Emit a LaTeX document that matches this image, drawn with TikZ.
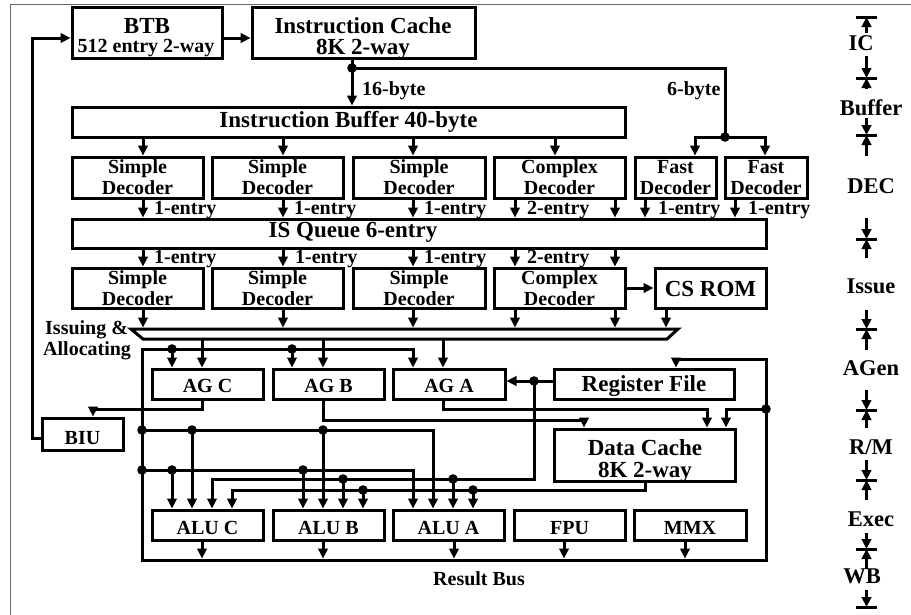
\documentclass[tikz,border=0pt]{standalone}
\usepackage{fontspec}
\setmainfont{Liberation Serif}
\usetikzlibrary{arrows.meta}
\newcommand\fntL{\fontsize{23}{23}\selectfont\bfseries}
\newcommand\fntS{\fontsize{20}{21}\selectfont\bfseries}
\newcommand\fntM{\fontsize{22.5}{23}\selectfont\bfseries}
\begin{document}
\begin{tikzpicture}[x=1pt,y=-1pt,
  wire/.style={line width=3pt},
  arr/.style={line width=3pt,-{Triangle[length=10pt,width=9.5pt]}},
  arrb/.style={line width=3pt,{Triangle[length=10pt,width=9.5pt]}-{Triangle[length=10pt,width=9.5pt]}},
  box/.style={draw,line width=3pt,inner sep=0pt},
  dec/.style={box,align=center,font=\fntS,minimum height=41pt},
  bxL/.style={box,font=\fntL,text depth=0pt,text height=#1},
  bxS/.style={box,font=\fntS,text depth=0pt,text height=#1},
  txL/.style={inner sep=0pt,anchor=base,font=\fntL},
  txS/.style={inner sep=0pt,anchor=base,font=\fntS},
  lab/.style={inner sep=0pt,anchor=base west,font=\fntS},
  stg/.style={inner sep=0pt,anchor=base,font=\fntM},
]
\useasboundingbox (0,0) rectangle (911,614);
\fill[white] (0,0) rectangle (911,614);
% outer frame
\draw[black!60,line width=0.8pt,double=white,double distance=1pt] (11,620) -- (11,5) -- (920,5);

% ---- top boxes
\node[box,minimum width=150pt,minimum height=51pt] (btb) at (147,32.5) {};
\node[txL] (btbA) at (147,33.4) {BTB};
\node[txS] (btbB) at (146,52.6) {512 entry 2-way};
\node[box,minimum width=223pt,minimum height=51pt] (ic) at (363.5,32.5) {};
\node[txL] (icA) at (363,33.4) {Instruction Cache};
\node[txL] (icB) at (363,54.3) {8K 2-way};
\node[bxL=11.2pt,minimum width=553pt,minimum height=30pt] (ib) at (348.5,122) {Instruction Buffer 40-byte};

% ---- decoders row 1
\node[dec,minimum width=131pt] (sd1) at (137.5,177.5) {Simple\\Decoder};
\node[dec,minimum width=131pt] (sd2) at (277.5,177.5) {Simple\\Decoder};
\node[dec,minimum width=132pt] (sd3) at (419,177.5) {Simple\\Decoder};
\node[dec,minimum width=131pt] (cd1) at (559.5,177.5) {Complex\\Decoder};
\node[dec,minimum width=81pt] (fd1) at (675.5,177.5) {Fast\\Decoder};
\node[dec,minimum width=82pt] (fd2) at (766,177.5) {Fast\\Decoder};

% ---- IS queue
\node[box,minimum width=694pt,minimum height=29pt] (isq) at (419,233.5) {};
\node[txL] (isqt) at (353,237.6) {IS Queue 6-entry};

% ---- decoders row 2
\node[dec,minimum width=131pt,minimum height=40pt] (sd4) at (137.5,288) {Simple\\Decoder};
\node[dec,minimum width=131pt,minimum height=40pt] (sd5) at (277.5,288) {Simple\\Decoder};
\node[dec,minimum width=132pt,minimum height=40pt] (sd6) at (419,288) {Simple\\Decoder};
\node[dec,minimum width=131pt,minimum height=40pt] (cd2) at (559.5,288) {Complex\\Decoder};
\node[bxL=17.2pt,minimum width=111pt,minimum height=40pt] (csr) at (710.5,288) {CS ROM};

% ---- AG row
\node[bxS=17pt,minimum width=111pt,minimum height=30pt] (agc) at (207.5,384) {AG C};
\node[bxS=17pt,minimum width=111pt,minimum height=30pt] (agb) at (328.5,384) {AG B};
\node[bxS=17pt,minimum width=112pt,minimum height=30pt] (aga) at (449,384) {AG A};
\node[bxL=15.2pt,minimum width=180pt,minimum height=30pt] (rf) at (644,384) {Register File};
\node[bxS=21pt,minimum width=81pt,minimum height=32pt] (biu) at (82.5,434) {BIU};
\node[box,minimum width=181pt,minimum height=52pt] (dc) at (644.5,455) {};
\node[txL] (dcA) at (645,455.1) {Data Cache};
\node[txL] (dcB) at (645,477.6) {8K 2-way};

% ---- execution units
\node[bxS=19.2pt,minimum width=111pt,minimum height=30pt] (aluc) at (207.5,525) {ALU C};
\node[bxS=19.2pt,minimum width=111pt,minimum height=30pt] (alub) at (328.5,525) {ALU B};
\node[bxS=19.2pt,minimum width=111pt,minimum height=30pt] (alua) at (448.5,525) {ALU A};
\node[bxS=19.2pt,minimum width=111pt,minimum height=30pt] (fpu) at (569.5,525) {FPU};
\node[bxS=19.2pt,minimum width=112pt,minimum height=30pt] (mmx) at (690,525) {MMX};

% ---- fetch wiring
\draw[arr] (btb.east |- 0,38) -- (ic.west |- 0,38);
\draw[arr] (biu.west |- 0,438) -- (32,438) |- (btb.west |- 0,38);
\coordinate (sp1) at (352,68);
\coordinate (sp2) at (725,137);
\draw[arr] (ic.south -| sp1) -- (ib.north -| sp1);
\draw[wire] (sp1) -| (sp2);
\draw[arr] (sp2) -| (fd1.north -| 695,0);
\draw[arr] (sp2) -| (fd2.north -| 765,0);
\node[lab] (l16) at (362,95) {16-byte};
\node[lab] (l6) at (667,95) {6-byte};

\foreach \x/\nd in {143/sd1,283/sd2,413/sd3,555/cd1}
  \draw[arr] (ib.south -| \x,0) -- (\nd.north -| \x,0);
\foreach \x/\nd in {143/sd1,283/sd2,413/sd3,515/cd1,615/cd1,645/fd1,735/fd2}
  \draw[arr] (\nd.south -| \x,0) -- (isq.north -| \x,0);
\foreach \x/\t [count=\i] in {154/1-entry,294/1-entry,424/1-entry,527/2-entry,658/1-entry,748/1-entry}
  \node[lab] (ea\i) at (\x,214) {\t};
\foreach \x/\nd in {143/sd4,283/sd5,413/sd6,515/cd2,615/cd2}
  \draw[arr] (isq.south -| \x,0) -- (\nd.north -| \x,0);
\foreach \x/\t [count=\i] in {154/1-entry,295/1-entry,424/1-entry,527/2-entry}
  \node[lab] (eb\i) at (\x,263) {\t};
\draw[arr] (cd2.east) -- (csr.west);

% ---- issue bus
\coordinate (busTL) at (131,329);
\coordinate (busTR) at (678,329);
\coordinate (busBR) at (667,339);
\coordinate (busBL) at (143,339);
\draw[wire] (busTL) -- (busTR) -- (busBR) -- (busBL) -- cycle;
\foreach \x/\nd in {143/sd4,283/sd5,413/sd6,515/cd2,615/cd2,666/csr}
  \draw[arr,shorten >=1.5pt] (\nd.south -| \x,0) -- (busTL -| \x,0);
\foreach \x/\nd in {202/agc,323/agb,443/aga}
  \draw[arr] (busBL -| \x,0) -- (\nd.north -| \x,0);
\node[lab] (iss1) at (45,334) {Issuing \&};
\node[lab] (iss2) at (43,355) {Allocating};

% ---- result bus and feedback
\coordinate (rbL) at (142,560);
\coordinate (rbR) at (766,560);
\coordinate (fdL) at (142,349);
\draw[arrb] (aga.north -| 413,0) -- (413,349) -- (fdL) -- (rbL) -- (rbR) -- (766,359) -- (676,359) -- (rf.north -| 676,0);
\draw[arr] (172,349) -- (agc.north -| 172,0);
\draw[arr] (292,349) -- (agb.north -| 292,0);

\coordinate (f1) at (142,430);
\coordinate (f2) at (142,470);
\draw[arr] (f1) -- (433,430) -- (alua.north -| 433,0);
\draw[arr] (192,430) -- (aluc.north -| 192,0);
\draw[arr] (323,430) -- (alub.north -| 323,0);
\draw[arr] (f2) -- (413,470) -- (alua.north -| 413,0);
\draw[arr] (172,470) -- (aluc.north -| 172,0);
\draw[arr] (303,470) -- (alub.north -| 303,0);

\draw[arr] (rf.west |- 0,381) -- (aga.east |- 0,381);
\coordinate (rfd) at (534,381);
\draw[arr] (rfd) -- (534,479) -- (212,479) -- (aluc.north -| 212,0);
\draw[arr] (343,479) -- (alub.north -| 343,0);
\draw[arr] (453,479) -- (alua.north -| 453,0);

\draw[arr] (dc.south -| 645,0) -- (645,490) -- (232,490) -- (aluc.north -| 232,0);
\draw[arr] (363,490) -- (alub.north -| 363,0);
\draw[arr] (473,490) -- (alua.north -| 473,0);

\draw[arr] (agc.south -| 202,0) -- (202,409) -- (93,409) -- (biu.north -| 93,0);
\draw[arr] (agb.south -| 323,0) -- (323,420) -- (584,420) -- (dc.north -| 584,0);
\draw[arr] (aga.south -| 443,0) -- (443,409) -- (707,409) -- (dc.north -| 707,0);
\coordinate (rd) at (766,409);
\draw[arr] (rd) -- (726,409) -- (dc.north -| 726,0);

\foreach \x/\nd in {202/aluc,323/alub,454/alua,564/fpu,685/mmx}
  \draw[arr,shorten >=1.5pt] (\nd.south -| \x,0) -- (rbL -| \x,0);
\node[lab] (rbus) at (433,585) {Result Bus};

% ---- junction dots
\foreach \p in {(352,68),(725,137),(172,349),(292,349),(142,430),(192,430),(323,430),(142,470),(172,470),(303,470),(534,381),(343,479),(453,479),(363,490),(473,490),(766,409)}
  \fill \p circle (4.8pt);

% ---- pipeline stages
\foreach \ya in {17,78,135,239,329,410,480,549,607}
  \draw[wire] (856,\ya) -- (877,\ya);
\foreach \ya/\da in {17/16,78/11,135/21,239/19,329/21,410/18,480/20,549/20}
  \draw[arr] (866.5,\ya+\da) -- (866.5,\ya);
\foreach \ya/\da in {78/22,135/17,239/21,329/19,410/20,480/20,549/16,607/17}
  \draw[arr] (866.5,\ya-\da) -- (866.5,\ya);
\node[stg] (sIC) at (861,50) {IC};
\node[stg] (sBuf) at (871,115) {Buffer};
\node[stg] (sDEC) at (871,193.3) {DEC};
\node[stg] (sIss) at (871,293) {Issue};
\node[stg] (sAG) at (871,375) {AGen};
\node[stg] (sRM) at (871,454) {R/M};
\node[stg] (sEx) at (871,526.5) {Exec};
\node[stg] (sWB) at (862,583) {WB};
\end{tikzpicture}
\end{document}
